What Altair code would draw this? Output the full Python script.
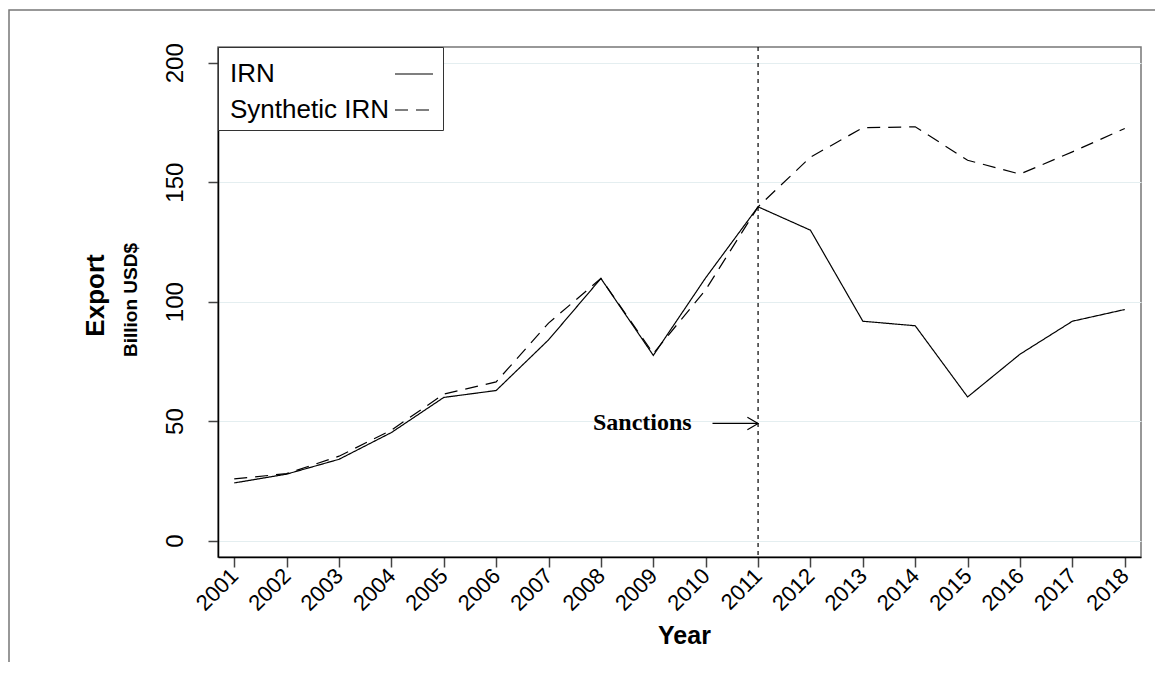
import altair as alt
import pandas as pd

# ---- data ----
years = list(range(2001, 2019))
irn = [24.1, 27.8, 34.0, 45.2, 59.9, 62.8, 84.0, 109.7, 77.5, 110.0, 139.7,
       129.9, 91.8, 89.9, 60.1, 78.0, 91.8, 96.7]
synthetic = [25.8, 28.0, 35.3, 46.2, 61.3, 66.4, 91.0, 109.7, 78.3, 105.0, 139.7,
             160.5, 172.8, 173.2, 159.2, 153.4, 162.7, 172.5]
series_names = ["IRN", "Synthetic IRN"]
y_ticks = [0, 50, 100, 150, 200]
x_domain = [2000.69, 2018.31]
y_domain = [-6.9, 206.6]
sanction_year = [2011]
annot_label = ["Sanctions"]
annot_label_x = [2008.79]
annot_y = [49]
arrow_from = [2010.13]

rows = []
for name, vals in zip(series_names, [irn, synthetic]):
    for yr, v in zip(years, vals):
        rows.append({"year": yr, "value": v, "series": name})
df = pd.DataFrame(rows)

xs = alt.Scale(domain=x_domain, nice=False, zero=False)
ys = alt.Scale(domain=y_domain, nice=False, zero=False)

lines = alt.Chart(df).mark_line(color="black", strokeWidth=1.2).encode(
    x=alt.X("year:Q", scale=xs, axis=alt.Axis(
        values=years, format="d", title="Year", labelAngle=315,
        labelAlign="right", labelBaseline="middle", labelFontSize=22,
        labelPadding=5, labelOverlap=False, labelBound=False, labelFlush=False,
        titleFontSize=25, titleFontWeight="bold", titleX=466, titleY=86,
        titleBaseline="alphabetic", titleAlign="center", grid=False)),
    y=alt.Y("value:Q", scale=ys, axis=alt.Axis(
        values=y_ticks, title="Export", labelAngle=270, labelAlign="center",
        labelBaseline="alphabetic", labelFontSize=24, labelPadding=26,
        titleAngle=270, titleFontSize=26, titleFontWeight="bold",
        titleX=-123, titleY=248, titleAlign="center", titleBaseline="middle",
        grid=True, gridColor="#e4eef0", gridWidth=1)),
    strokeDash=alt.StrokeDash("series:N", scale=alt.Scale(
        domain=series_names, range=[[1, 0], [13, 8]]),
        legend=alt.Legend(
            title=None, orient="top-left", offset=0, symbolType="stroke",
            symbolSize=1444, symbolStrokeColor="black", symbolStrokeWidth=1.2,
            labelFont="Liberation Sans", labelFontSize=26, labelColor="black",
            labelLimit=400, labelOffset={"expr": "-204"}, symbolOffset=169,
            rowPadding=3, padding=7, strokeColor="#333",
            fillColor="white")),
)

sanction_df = pd.DataFrame({"year": sanction_year})
vline = alt.Chart(sanction_df).mark_rule(
    color="black", strokeWidth=1.2, strokeDash=[4, 4]).encode(x=alt.X("year:Q", scale=xs))

annot_df = pd.DataFrame({"tx": annot_label_x, "y": annot_y, "label": annot_label,
                         "x0": arrow_from, "x1": sanction_year})
annot_text = alt.Chart(annot_df).mark_text(
    font="Liberation Serif", fontWeight="bold", fontSize=24, color="black",
    align="center", baseline="middle").encode(
    x=alt.X("tx:Q", scale=xs), y=alt.Y("y:Q", scale=ys), text="label:N")
arrow_shaft = alt.Chart(annot_df).mark_rule(color="black", strokeWidth=1.2).encode(
    x=alt.X("x0:Q", scale=xs), x2="x1:Q", y=alt.Y("y:Q", scale=ys))
arrow_head = alt.Chart(annot_df).mark_point(
    shape="M-1,-0.58L0,0L-1,0.58", size=458, filled=False, color="black",
    strokeWidth=1.2, opacity=1).encode(
    x=alt.X("x1:Q", scale=xs), y=alt.Y("y:Q", scale=ys))

billion = alt.Chart(alt.Data(values=[{"t": "Billion USD$"}])).mark_text(
    font="Liberation Sans", fontWeight="bold", fontSize=19, color="black",
    angle=270, align="center", baseline="middle").encode(
    x=alt.value(-87), y=alt.value(253), text="t:N")

frame = alt.Chart(alt.Data(values=[{"a": 1}])).mark_rect(
    fill=None, stroke="#777", strokeWidth=1.5).encode(
    x=alt.value(-209), x2=alt.value(1200), y=alt.value(-37), y2=alt.value(800))

chart = alt.layer(frame, vline, lines, arrow_shaft, arrow_head, annot_text, billion).properties(
    width=923, height=510,
    autosize=alt.AutoSizeParams(type="none"),
    padding={"left": 210, "top": 39, "right": 14, "bottom": 105},
).configure_view(stroke="#777", strokeWidth=1.5).configure_axis(
    labelFont="Liberation Sans", titleFont="Liberation Sans", labelColor="black",
    titleColor="black", tickSize=10, tickColor="#444", tickWidth=1.5,
    domainColor="black", domainWidth=1.5)

chart.save("out.html", embed_options={"renderer": "svg", "actions": False})
